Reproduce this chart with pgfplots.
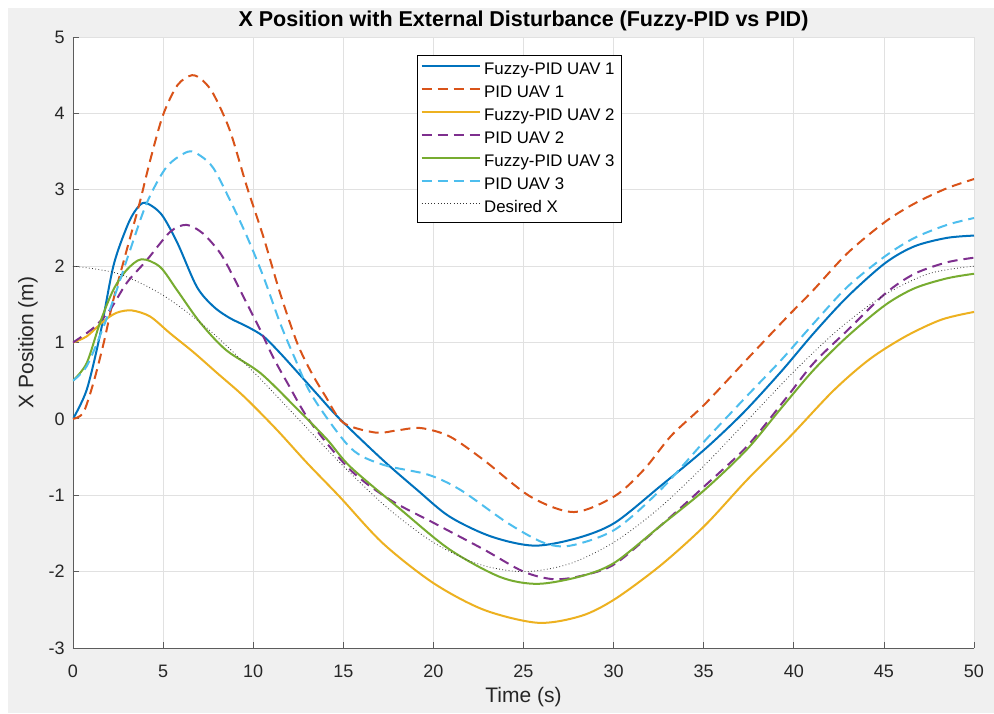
\documentclass[border=0pt]{standalone}
\usepackage{fontspec}
\setmainfont{Liberation Sans}
\usepackage{pgfplots}
\pgfplotsset{compat=1.18}
\definecolor{mBlue}{rgb}{0,0.447,0.741}
\definecolor{mOrange}{rgb}{0.85,0.325,0.098}
\definecolor{mYellow}{rgb}{0.929,0.694,0.125}
\definecolor{mPurple}{rgb}{0.494,0.184,0.556}
\definecolor{mGreen}{rgb}{0.466,0.674,0.188}
\definecolor{mCyan}{rgb}{0.301,0.745,0.933}
\definecolor{mGrid}{RGB}{225,225,225}
\definecolor{mBg}{RGB}{240,240,240}
\definecolor{mAxis}{RGB}{38,38,38}

\begin{document}
\begin{tikzpicture}
% figure background (1px = 0.5pt)
\fill[white] (-36.5pt,-32.5pt) rectangle (460.5pt,324pt);
\fill[mBg] (-32.5pt,-32.5pt) rectangle (460.5pt,320pt);
\begin{axis}[
  at={(0pt,0pt)}, anchor=south west,
  scale only axis, width=450.5pt, height=305.5pt,
  xmin=0, xmax=50, ymin=-3, ymax=5,
  xtick={0,5,...,50}, ytick={-3,-2,...,5},
  axis x line*=bottom, axis y line*=left,
  x axis line style={-}, y axis line style={-},
  axis line style={mAxis!75, line width=0.4pt},
  tick align=inside, major tick length=3pt,
  tick style={mAxis!75, line width=0.4pt},
  grid=major, grid style={mGrid, line width=0.4pt},
  axis background/.style={fill=white},
  tick label style={font=\fontsize{9}{10}\selectfont, text=mAxis},
  /pgf/number format/assume math mode=true,
  x tick label style={anchor=center, yshift=-11.5pt},
  y tick label style={anchor=east, inner sep=0pt, xshift=-4pt},
  every axis title shift=0pt,
  title={X Position with External Disturbance (Fuzzy-PID vs PID)},
  title style={font=\bfseries\fontsize{10.75}{12}\selectfont, text=black,
    at={(axis description cs:0.5,1)}, anchor=base, yshift=5.5pt},
  xlabel={Time (s)}, ylabel={X Position (m)},
  label style={font=\fontsize{10.5}{12}\selectfont, text=mAxis},
  xlabel style={at={(axis description cs:0.5,-0.0802)}, anchor=center},
  ylabel style={at={(axis description cs:-0.05,0.5)}, anchor=center},
  legend style={at={(axis description cs:0.382,0.9705)}, anchor=north west,
    draw=black, line width=0.4pt, fill=white, inner sep=1.5pt,
    font=\fontsize{8.4}{9}\selectfont,
    nodes={inner sep=1.8pt, text height=6.2pt, text depth=1.7pt}},
  legend cell align=left,
  legend image code/.code={\draw[#1] (0pt,2.2pt) -- (29pt,2.2pt);},
]
% Fuzzy-PID UAV 1
\addplot[mBlue, line width=1pt, smooth] coordinates {
  (0,0) (0.76,0.38) (1.5,1.1) (2.24,2.0) (3.0,2.52) (3.5,2.74) (4.0,2.83)
  (4.9,2.68) (5.8,2.3) (6.87,1.73) (7.8,1.47) (8.7,1.32) (9.65,1.21)
  (10.57,1.08) (11.5,0.86) (12.5,0.6) (13.6,0.31) (14.8,0.0) (17.2,-0.54)
  (19.1,-0.93) (20.9,-1.28) (23.2,-1.54) (25.6,-1.66) (28,-1.56)
  (30.07,-1.36) (32.6,-0.88) (35.05,-0.4) (37.2,0.08) (39.3,0.62)
  (41.1,1.12) (42.98,1.6) (45.07,2.04) (46.7,2.26) (48.5,2.37) (50,2.4)};
\addlegendentry{Fuzzy-PID UAV 1}
% PID UAV 1
\addplot[mOrange, line width=1pt, smooth, dash pattern=on 5pt off 3pt] coordinates {
  (0,0) (0.57,0.08) (1.13,0.47) (1.7,0.99) (2.24,1.56) (2.98,2.21) (3.7,2.83)
  (4.3,3.4) (5.0,3.98) (5.8,4.37) (6.6,4.5) (7.2,4.43) (7.8,4.25) (8.7,3.78)
  (9.65,3.04) (10.57,2.38) (11.5,1.64) (12.43,1.0) (13.2,0.62) (14,0.3)
  (15,-0.05) (16.8,-0.18) (18,-0.15) (19.3,-0.12) (20.9,-0.23) (22.8,-0.54)
  (25.4,-1.02) (27.8,-1.22) (30.07,-1.01) (31.7,-0.66) (33.2,-0.22)
  (35.05,0.19) (37.4,0.78) (39.65,1.34) (41.1,1.69) (42.98,2.17)
  (45.07,2.58) (46.7,2.82) (48.5,3.02) (50,3.14)};
\addlegendentry{PID UAV 1}
% Fuzzy-PID UAV 2
\addplot[mYellow, line width=1pt, smooth] coordinates {
  (0,1.0) (0.76,1.08) (1.7,1.28) (2.43,1.39) (3.26,1.42) (4.28,1.34)
  (5.39,1.12) (6.7,0.87) (8,0.6) (9.5,0.29) (11.3,-0.14) (13,-0.58)
  (14.8,-1.02) (17.2,-1.63) (20,-2.15) (22.8,-2.5) (25.8,-2.67)
  (28.2,-2.58) (30.07,-2.36) (32.6,-1.92) (35.05,-1.4) (37.4,-0.8)
  (39.8,-0.23) (42.2,0.37) (44.2,0.78) (46.2,1.08) (48.2,1.3) (50,1.4)};
\addlegendentry{Fuzzy-PID UAV 2}
% PID UAV 2
\addplot[mPurple, line width=1pt, smooth, dash pattern=on 5pt off 3pt] coordinates {
  (0,1) (1.13,1.19) (2.06,1.43) (2.98,1.78) (4.1,2.08) (5.4,2.45) (6.3,2.54)
  (7.2,2.43) (8.17,2.17) (8.9,1.86) (9.65,1.51) (10.4,1.16) (11.1,0.81)
  (11.9,0.47) (13.2,-0.05) (15.4,-0.67) (17.6,-1.06) (20,-1.36)
  (22.8,-1.71) (25,-2.0) (26.7,-2.1) (28.3,-2.05) (30.07,-1.9) (32.6,-1.4)
  (35.05,-0.88) (37.4,-0.36) (39.5,0.25) (41.1,0.73) (42.98,1.16)
  (45.07,1.64) (46.7,1.9) (48.5,2.05) (50,2.11)};
\addlegendentry{PID UAV 2}
% Fuzzy-PID UAV 3
\addplot[mGreen, line width=1pt, smooth] coordinates {
  (0,0.5) (0.76,0.73) (1.5,1.26) (2.24,1.69) (2.98,1.95) (3.8,2.09)
  (4.83,1.99) (5.76,1.69) (7.06,1.26) (8.5,0.9) (10.4,0.6) (12.4,0.14)
  (14.1,-0.27) (15.4,-0.63) (18.2,-1.19) (20.9,-1.71) (23.7,-2.07)
  (25.8,-2.16) (28.2,-2.06) (30.07,-1.88) (32.6,-1.4) (35.05,-0.93)
  (37.4,-0.4) (39.3,0.14) (41.1,0.64) (42.98,1.08) (45.07,1.49)
  (46.7,1.71) (48.5,1.84) (50,1.9)};
\addlegendentry{Fuzzy-PID UAV 3}
% PID UAV 3
\addplot[mCyan, line width=1pt, smooth, dash pattern=on 5pt off 3pt] coordinates {
  (0,0.5) (0.76,0.69) (1.7,1.21) (2.43,1.69) (3.17,2.21) (4.1,2.83)
  (5.2,3.3) (6.4,3.5) (7.1,3.44) (7.8,3.28) (8.7,2.87) (9.65,2.39)
  (10.57,1.86) (11.5,1.25) (12.3,0.8) (13.3,0.29) (15.4,-0.38) (17.2,-0.6)
  (19.7,-0.73) (21.5,-0.93) (24.1,-1.36) (26.1,-1.62) (27.6,-1.66)
  (30.07,-1.45) (32.6,-0.93) (35.05,-0.29) (37.4,0.3) (39.3,0.77)
  (41.1,1.25) (42.98,1.73) (45.07,2.13) (46.7,2.37) (48.5,2.54) (50,2.63)};
\addlegendentry{PID UAV 3}
% Desired X
\addplot[black!80, line width=0.4pt, smooth, dash pattern=on 0.4pt off 1.2pt] coordinates {
  (0,2) (2.5,1.902) (5,1.618) (7.5,1.176) (10,0.618) (12.5,0) (15,-0.618)
  (17.5,-1.176) (20,-1.618) (22.5,-1.902) (25,-2) (27.5,-1.902) (30,-1.618)
  (32.5,-1.176) (35,-0.618) (37.5,0) (40,0.618) (42.5,1.176) (45,1.618)
  (47.5,1.902) (50,2)};
\addlegendentry{Desired X}
\end{axis}
\end{tikzpicture}
\end{document}
